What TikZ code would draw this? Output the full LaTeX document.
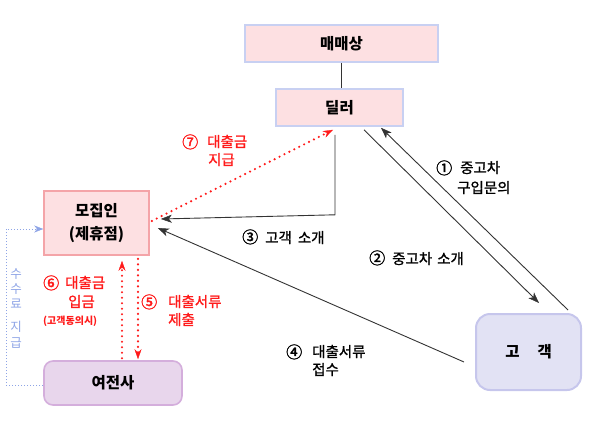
\documentclass[tikz,border=0pt]{standalone}
\usepackage{fontspec}
\setmainfont{Noto Sans CJK KR}
\newfontface\medfont{Noto Sans CJK KR}[FakeBold=1.2]
\newfontface\numfont{Noto Sans CJK KR}[FakeBold=2]
\usetikzlibrary{arrows.meta,calc}
\definecolor{boxpink}{HTML}{FDE0E2}
\definecolor{bluebord}{HTML}{C8D0F2}
\definecolor{pinkbord}{HTML}{F4A4A8}
\definecolor{purfill}{HTML}{E8D6EC}
\definecolor{purbord}{HTML}{D4AEDC}
\definecolor{lavfill}{HTML}{E2E2F4}
\definecolor{lavbord}{HTML}{C6C6EC}
\definecolor{lblue}{HTML}{8EA4E6}
\definecolor{lred}{HTML}{FF1A1A}
\newcommand{\cnum}[1]{{\numfont\fontsize{16}{18}\selectfont #1}}
\begin{document}
\begin{tikzpicture}[x=1pt,y=-1pt,
  boxbase/.style={line width=1.6pt, inner sep=0pt, align=center,
    font=\fontsize{15.5}{23}\selectfont\bfseries},
  topbox/.style={boxbase, draw=bluebord, fill=boxpink},
  mobox/.style={boxbase, draw=pinkbord, fill=boxpink},
  yeobox/.style={boxbase, draw=purbord, fill=purfill, rounded corners=9pt},
  gobox/.style={boxbase, draw=lavbord, fill=lavfill, line width=2pt, rounded corners=14pt},
  blk/.style={draw=black!80, line width=0.9pt},
  blkarr/.style={blk, -{Stealth[length=11pt,width=8pt,inset=3pt,line width=0.5pt]}},
  reddot/.style={draw=lred, line width=2.4pt, dash pattern=on 0pt off 5.5pt, line cap=round},
  redarr/.style={reddot, -{Stealth[length=10pt,width=7pt,line width=0.3pt,fill=lred]}},
  bluedot/.style={draw=lblue, line width=0.9pt, dash pattern=on 1.2pt off 1.8pt,
    -{Stealth[length=9pt,width=7pt,line width=0.3pt,fill=lblue]}},
  lab/.style={font=\fontsize{14.5}{18}\medfont, inner sep=0pt, anchor=base west},
  redlab/.style={lab, text=lred},
  smallred/.style={lab, text=lred, font=\fontsize{10}{12}\selectfont\bfseries},
  bluelab/.style={inner sep=0pt, text=lblue, font=\fontsize{12.5}{14}\selectfont}
]
\useasboundingbox (0,0) rectangle (601,425);

% boxes
\node[topbox, minimum width=193pt, minimum height=37pt] (maemae) at (341.5,43.5) {매매상};
\node[topbox, minimum width=127pt, minimum height=37pt] (dealer) at (339.5,107.5) {딜러};
\node[mobox, minimum width=105pt, minimum height=64pt] (mojip) at (96.5,223) {모집인\\(제휴점)};
\node[yeobox, minimum width=138pt, minimum height=44pt] (yeojeon) at (113,383) {여전사};
\node[gobox, minimum width=105pt, minimum height=76pt] (gogaek) at (528.5,352) {고\hspace{18pt}객};

% connectors
\draw[blk] (maemae.south) -- (maemae.south |- dealer.north);
\coordinate (dd) at ($(dealer.south)+(-4.5,8)$);
\draw[blkarr] (dd) -- ++(0,80) -- ($(mojip.east)+(11,-4)$);
\draw[blkarr] ($(gogaek.west)+(-11,10)$) -- ($(mojip.east)+(8,5)$);
\draw[blkarr] ($(dealer.south)+(24.5,3)$) -- ($(gogaek.north)+(10.5,-10)$);
\draw[blkarr] ($(gogaek.north)+(39.5,-3)$) -- ($(dealer.south)+(41.5,1)$);
\draw[redarr] ($(mojip.east)+(2,-2)$) -- ($(dealer.south)+(-6.5,3)$);
\draw[redarr] ($(yeojeon.north)+(9,-2)$) -- ($(mojip.south)+(25.5,5)$);
\draw[redarr] ($(mojip.south)+(41.5,3)$) -- ($(yeojeon.north)+(25,-1)$);
\coordinate (bl) at (6,229);
\draw[bluedot] ($(yeojeon.west)+(0,2)$) -| (bl) -- ($(mojip.west)+(0,6)$);

% labels
\node[redlab] (n7) at (182,148) {\cnum{⑦}};
\node[redlab] (t7a) at (207,147) {대출금};
\node[redlab] (t7b) at (208,165) {지급};

\node[lab] (n1) at (436,174) {\cnum{①}};
\node[lab] (t1a) at (460,173) {중고차};
\node[lab] (t1b) at (457,193) {구입문의};

\node[lab] (n3) at (242,243) {\cnum{③}\hspace{7pt}고객\hspace{6pt}소개};
\node[lab] (n2) at (369,264) {\cnum{②}\hspace{7pt}중고차\hspace{5pt}소개};

\node[lab] (n4) at (286,358) {\cnum{④}};
\node[lab] (t4a) at (312,357) {대출서류};
\node[lab] (t4b) at (312,375) {접수};

\node[redlab] (n6) at (43,289) {\cnum{⑥}};
\node[redlab] (t6a) at (65,288) {대출금};
\node[redlab] (t6b) at (68,307) {입금};
\node[smallred] (t6c) at (43,324) {(고객동의시)};

\node[redlab] (n5) at (141,308) {\cnum{⑤}};
\node[redlab] (t5a) at (168,307) {대출서류};
\node[redlab] (t5b) at (168,325) {제출};

\foreach \c/\y in {수/274,수/289,료/304,지/327,급/343}
  \node[bluelab] (v\y) at (16,\y) {\c};
\end{tikzpicture}
\end{document}
